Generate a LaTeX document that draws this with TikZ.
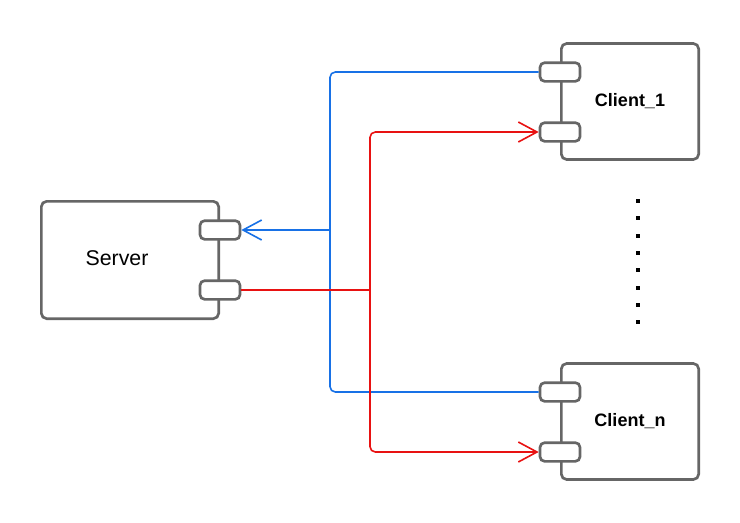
\documentclass[tikz,border=0pt]{standalone}
\usepackage{fontspec}
\setmainfont{Liberation Sans}
\usepackage{tikz}
\usetikzlibrary{
  positioning,
  arrows.meta
}
\definecolor{boxgray}{RGB}{102,102,102}
\definecolor{linkblue}{RGB}{24,113,230}
\definecolor{linkred}{RGB}{232,18,18}
\tikzstyle{component}=[draw=boxgray, line width=2pt, rounded corners=4pt, fill=white]
\tikzstyle{port}=[draw=boxgray, line width=2pt, rounded corners=3.5pt, fill=white, minimum width=30pt, minimum height=14pt]
\tikzstyle{bluelink}=[draw=linkblue, line width=1.2pt, rounded corners=4pt]
\tikzstyle{redlink}=[draw=linkred, line width=1.2pt, rounded corners=4pt]
\tikzstyle{barb}=[-{Straight Barb[length=14pt, width=15pt]}]

\begin{document}
\begin{tikzpicture}[x=0.75pt, y=-0.75pt]
    \useasboundingbox (0,0) rectangle (740,522);

    % サーバー
    \node[component, minimum width=133pt, minimum height=88pt] (server) at (130,260) {};
    \node[font=\fontsize{16}{19}\selectfont] (serverlabel) at (117,258) {Server};

    % クライアント
    \node[component, minimum width=103pt, minimum height=87pt, font=\fontsize{13.5}{16}\selectfont\bfseries] (client1) at (630,101.5) {Client\_1};
    \node[component, minimum width=103pt, minimum height=87pt, font=\fontsize{13.5}{16}\selectfont\bfseries] (clientn) at (630,421.5) {Client\_n};

    % ポート
    \node[port] (srvin) at (220,230) {};
    \node[port] (srvout) at (220,290) {};
    \node[port] (c1out) at (560,72) {};
    \node[port] (c1in) at (560,132) {};
    \node[port] (cnout) at (560,392) {};
    \node[port] (cnin) at (560,452) {};

    % 分岐点
    \coordinate (bluejoin) at (330,230);
    \coordinate (redjoin) at (370,290);

    % クライアントからサーバーへ (青)
    \draw[bluelink] (c1out.west) -| (bluejoin);
    \draw[bluelink] (cnout.west) -| (bluejoin);
    \draw[bluelink, barb] (bluejoin) -- (srvin.east);

    % サーバーからクライアントへ (赤)
    \draw[redlink] (srvout.east) -- (redjoin);
    \draw[redlink, barb] (redjoin) |- (c1in.west);
    \draw[redlink, barb] (redjoin) |- (cnin.west);

    % 省略記号
    \foreach \i in {0,...,7}
      \fill (636,{199+17.3*\i}) rectangle ++(4,4);
\end{tikzpicture}
\end{document}
